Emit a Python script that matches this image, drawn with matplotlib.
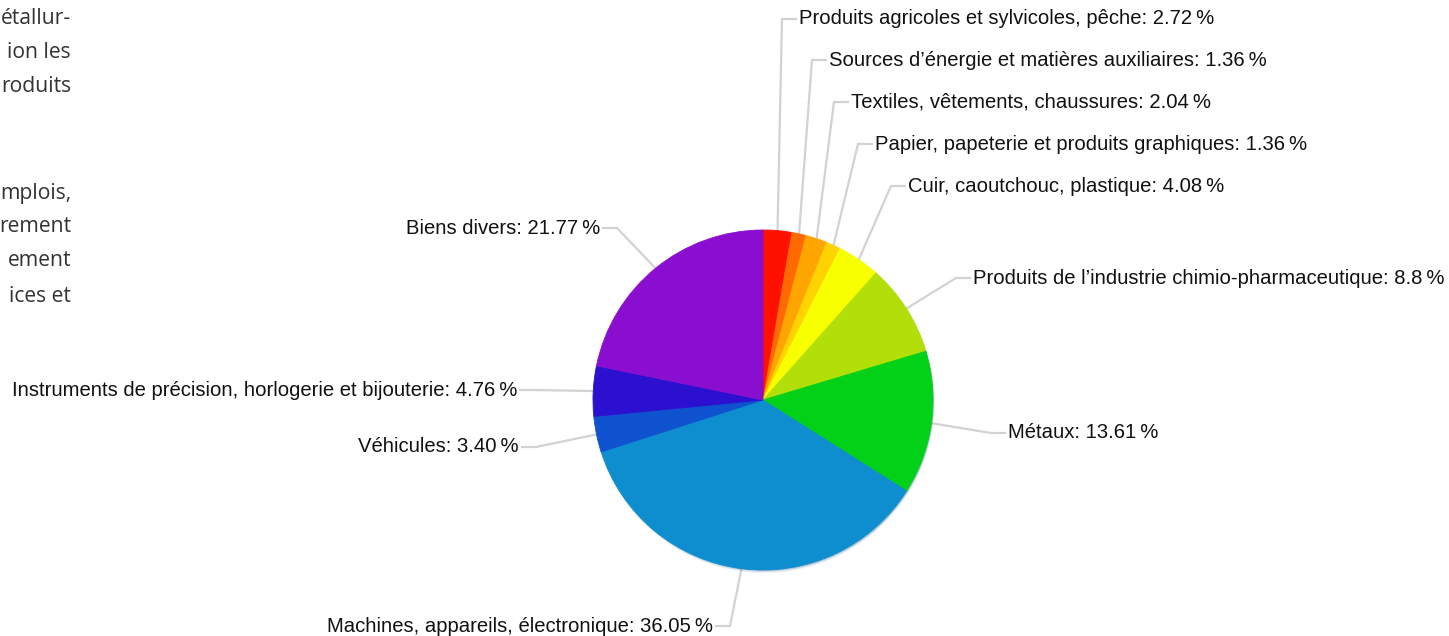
import numpy as np
import matplotlib
matplotlib.use("Agg")
import matplotlib.pyplot as plt
from matplotlib.patches import Circle

# ---- data ----
categories = [
    "Produits agricoles et sylvicoles, pêche",
    "Sources d\u2019énergie et matières auxiliaires",
    "Textiles, vêtements, chaussures",
    "Papier, papeterie et produits graphiques",
    "Cuir, caoutchouc, plastique",
    "Produits de l\u2019industrie chimio-pharmaceutique",
    "Métaux",
    "Machines, appareils, électronique",
    "Véhicules",
    "Instruments de précision, horlogerie et bijouterie",
    "Biens divers",
]
values = [2.72, 1.36, 2.04, 1.36, 4.08, 8.8, 13.61, 36.05, 3.40, 4.76, 21.77]
value_labels = ["2.72", "1.36", "2.04", "1.36", "4.08", "8.8", "13.61", "36.05", "3.40", "4.76", "21.77"]
colors = ["#ff1100", "#ff6a00", "#ffa500", "#ffd200", "#f7ff00", "#b2df0a",
          "#02d117", "#0e8ecf", "#0f52d0", "#2b10cf", "#8a0ecf"]

side_text = ["étallur-", "ion les", "roduits", "mplois,", "rement", "ement", "ices et"]

# ---- layout (pixels) ----
W, H = 1449, 636
CX, CY, R = 763, 400, 170
# label anchor: (x, y, side) ; side +1 = label to the right, -1 = to the left
label_pos = [(799, 19, 1), (829, 60, 1), (851, 102, 1), (875, 144, 1), (908, 186, 1),
             (973, 278, 1), (1008, 433, 1), (713, 626, -1), (519, 447, -1),
             (517, 390, -1), (600, 228, -1)]
side_y = [19, 52, 86, 193, 226, 260, 297]

fig = plt.figure(figsize=(W / 100, H / 100), dpi=100)
ax = fig.add_axes([0, 0, 1, 1])

def Y(y):
    return H - y

# shadow
for k, a in [(3, 0.05), (2, 0.08), (1, 0.12)]:
    ax.add_patch(Circle((CX + 1, Y(CY) - k), R, color="#0a4f80", alpha=a * 1.5, lw=0, zorder=1))

wedges, _ = ax.pie(values, colors=colors, startangle=90, counterclock=False,
                   center=(CX, Y(CY)), radius=R, frame=True,
                   wedgeprops=dict(linewidth=0.6, zorder=2))
for w, c in zip(wedges, colors):
    w.set_edgecolor(c)

# labels and connectors
total = sum(values)
cum = 0.0
font = ["Liberation Sans", "DejaVu Sans"]
for cat, v, vl, (tx, ty, side) in zip(categories, values, value_labels, label_pos):
    frac = (cum + v / 2) / total
    cum += v
    th = 2 * np.pi * frac
    sx = CX + R * np.sin(th)
    sy = CY - R * np.cos(th)
    elbow_x = tx - 17 * side
    end_x = tx - 3 * side
    ax.plot([sx, elbow_x, end_x], [Y(sy), Y(ty), Y(ty)], color="#d2d2d2", lw=1.6,
            solid_joinstyle="miter", zorder=0.5)
    ax.text(tx, Y(ty), f"{cat}: {vl}\u2009%", ha="left" if side > 0 else "right",
            va="center", fontsize=14.55, family=font, color="#111111")

for t, y in zip(side_text, side_y):
    ax.text(71, Y(y), t, ha="right", va="center", fontsize=15.2,
            family=["Open Sans", "DejaVu Sans"], color="#333333")

ax.set_xlim(0, W)
ax.set_ylim(0, H)
ax.set_aspect("equal")
ax.axis("off")
fig.savefig("out.png", dpi=100, facecolor="white")
